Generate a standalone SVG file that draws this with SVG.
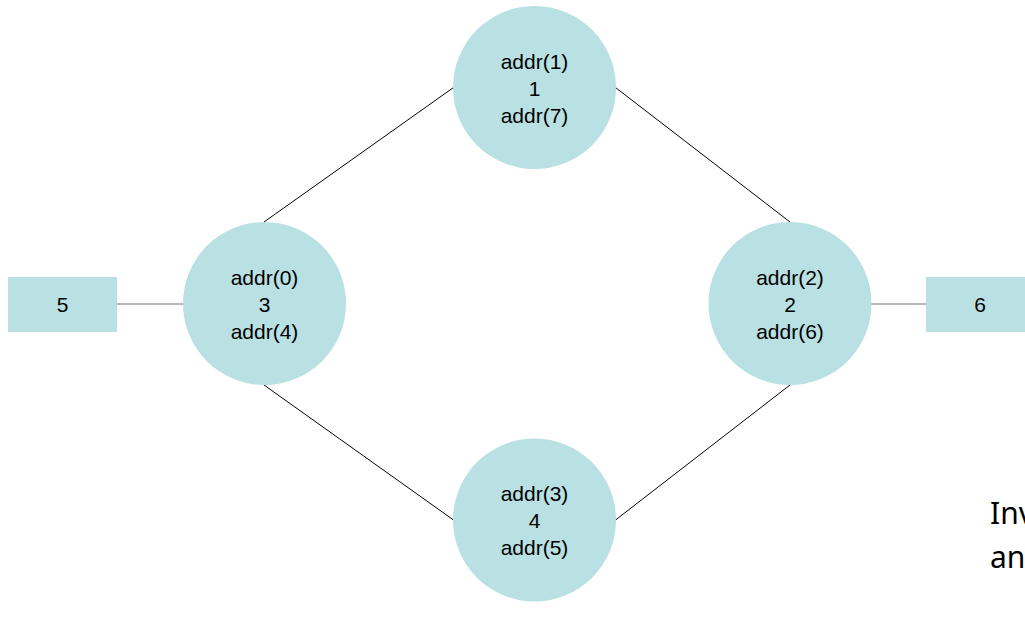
<svg xmlns="http://www.w3.org/2000/svg" width="1025" height="626" viewBox="0 0 1025 626">
  <style>
    .node { fill: #b9e0e3; stroke: none; }
    .lbl { font-family: "Liberation Sans", Arial, sans-serif; font-size: 21px; fill: #000; text-anchor: middle; }
    .edge { stroke: #000; stroke-width: 1; fill: none; }
    .stub { stroke: #707070; stroke-width: 1.2; fill: none; }
    .note { font-family: "Noto Sans", "Open Sans", sans-serif; font-size: 30px; fill: #000; }
  </style>
  <rect width="1025" height="626" fill="#fff"/>

  <g id="connectors">
    <line class="edge" x1="264" y1="222" x2="453.5" y2="87.5"/>
    <line class="edge" x1="615.5" y1="87.5" x2="790" y2="222"/>
    <line class="edge" x1="264" y1="385" x2="453.5" y2="520"/>
    <line class="edge" x1="615.5" y1="520" x2="790" y2="385"/>
    <line class="stub" x1="117" y1="304" x2="183" y2="304"/>
    <line class="stub" x1="871" y1="304" x2="926" y2="304"/>
  </g>

  <g id="node-top">
    <circle class="node" cx="534.5" cy="87.5" r="81.5"/>
    <text class="lbl" x="534.5" y="69">addr(1)</text>
    <text class="lbl" x="534.5" y="96">1</text>
    <text class="lbl" x="534.5" y="123">addr(7)</text>
  </g>

  <g id="node-left">
    <circle class="node" cx="264.5" cy="303.5" r="81.5"/>
    <text class="lbl" x="264.5" y="285">addr(0)</text>
    <text class="lbl" x="264.5" y="312">3</text>
    <text class="lbl" x="264.5" y="339">addr(4)</text>
  </g>

  <g id="node-right">
    <circle class="node" cx="790" cy="303.5" r="81.5"/>
    <text class="lbl" x="790" y="285">addr(2)</text>
    <text class="lbl" x="790" y="312">2</text>
    <text class="lbl" x="790" y="339">addr(6)</text>
  </g>

  <g id="node-bottom">
    <circle class="node" cx="534.5" cy="520" r="81.5"/>
    <text class="lbl" x="534.5" y="501">addr(3)</text>
    <text class="lbl" x="534.5" y="528">4</text>
    <text class="lbl" x="534.5" y="555">addr(5)</text>
  </g>

  <g id="node-5">
    <rect class="node" x="8" y="277" width="109" height="55"/>
    <text class="lbl" x="62.5" y="312">5</text>
  </g>

  <g id="node-6">
    <rect class="node" x="926" y="277" width="110" height="55"/>
    <text class="lbl" x="980" y="312">6</text>
  </g>

  <g id="note">
    <text class="note" x="990" y="524">Inv</text>
    <text class="note" x="990" y="568">an</text>
  </g>
</svg>
